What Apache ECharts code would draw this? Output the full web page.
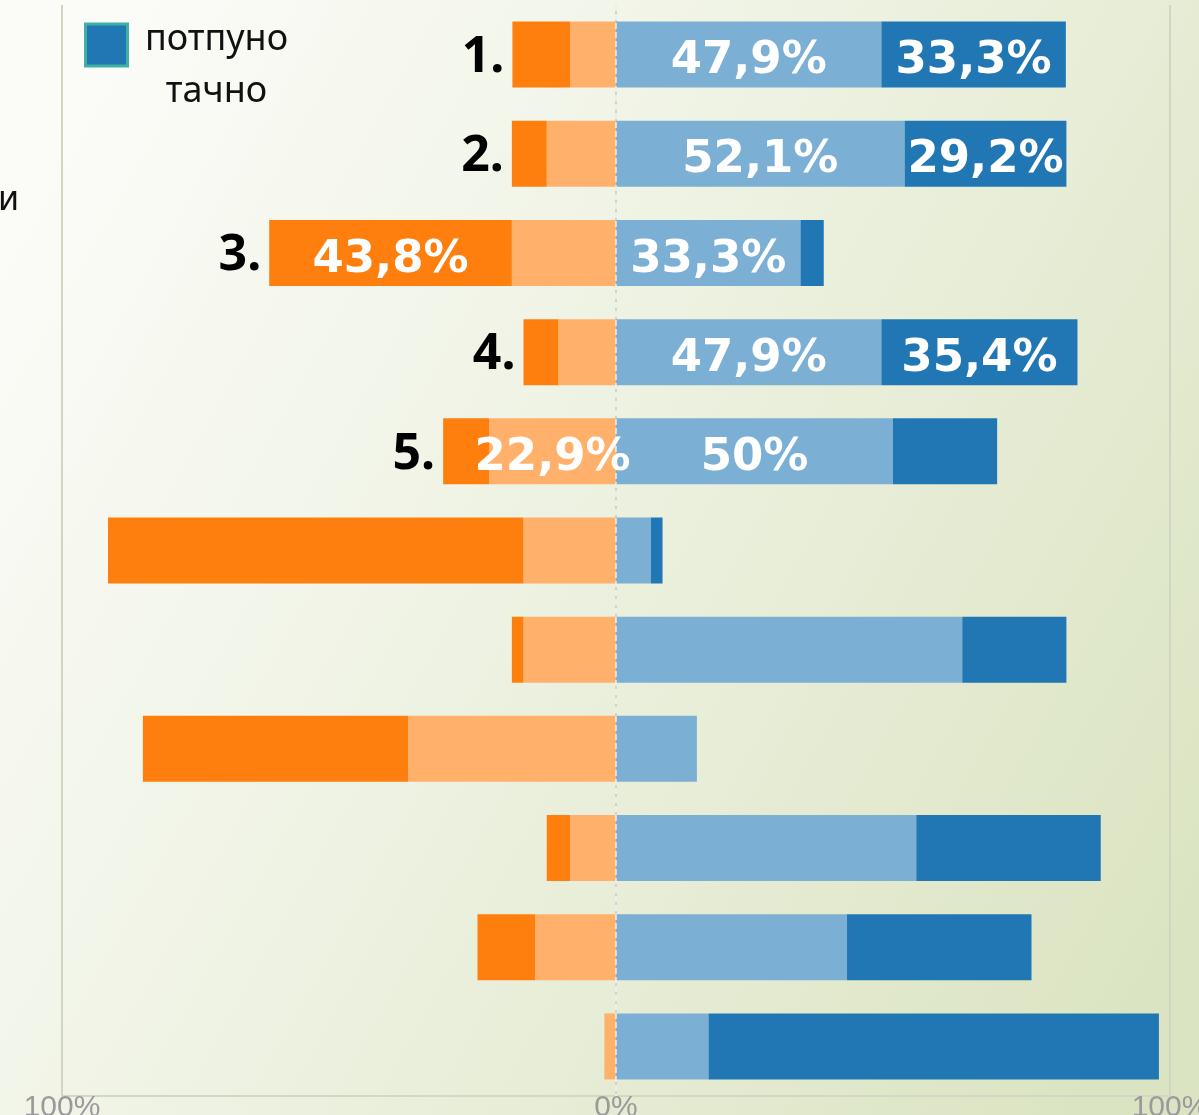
<!DOCTYPE html>
<html>
<head>
<meta charset="utf-8">
<script src="https://cdn.jsdelivr.net/npm/echarts@6/dist/echarts.min.js"></script>
<style>
html,body{margin:0;padding:0;}
#chart{width:1199px;height:1115px;}
</style>
</head>
<body>
<div id="chart"></div>
<script>
// ---- data ----
const categories = ['1','2','3','4','5','6','7','8','9','10','11'];
const rowLabels = ['1.','2.','3.','4.','5.','','','','','',''];
const seriesNames = ['нимало', 'делимично нетачно', 'углавном тачно', 'потпуно тачно'];
const darkOrange  = [10.4, 6.3, 43.8, 6.3, 8.3, 75.0, 2.1, 47.9, 4.2, 10.4, 0];
const lightOrange = [8.3, 12.5, 18.8, 10.4, 22.9, 16.7, 16.7, 37.5, 8.3, 14.6, 2.1];
const lightBlue   = [47.9, 52.1, 33.3, 47.9, 50.0, 6.3, 62.5, 14.6, 54.2, 41.7, 16.7];
const darkBlue    = [33.3, 29.2, 4.2, 35.4, 18.8, 2.1, 18.8, 0, 33.3, 33.3, 81.3];
// which segment values are printed on the bars
const showDarkOrange  = [0,0,1,0,0,0,0,0,0,0,0];
const showLightOrange = [0,0,0,0,1,0,0,0,0,0,0];
const showLightBlue   = [1,1,1,1,1,0,0,0,0,0,0];
const showDarkBlue    = [1,1,0,1,0,0,0,0,0,0,0];
const axisTicks = [-100, 0, 100];

const colors = {darkOrange:'#ff7f0e', lightOrange:'#ffb06b', lightBlue:'#7bafd4', darkBlue:'#2077b4'};

function fmt(v){
  v = Math.abs(v);
  const s = Number.isInteger(v) ? String(v) : v.toFixed(1).replace('.', ',');
  return s + '%';
}
const valueLabel = {
  show: true, position: 'inside', color: '#ffffff', offset: [0, 7],
  fontFamily: 'DejaVu Sans', fontWeight: 'bold', fontSize: 45,
  formatter: p => fmt(p.value)
};
function mk(vals, flags, sign){
  return vals.map((v,i) => ({
    value: sign * v,
    label: flags[i] ? Object.assign({}, valueLabel) : {show:false}
  }));
}
const markerVals = rowLabels.map((t,i) => t ? -(darkOrange[i] + lightOrange[i]) : null);

const common = {type:'bar', barWidth: 66, barGap: '-100%', silent: true};

const chart = echarts.init(document.getElementById('chart'));
chart.setOption({
  animation: false,
  backgroundColor: {
    type: 'linear', x: 0, y: 0.2, x2: 1, y2: 0.8,
    colorStops: [
      {offset: 0, color: '#fbfcf8'},
      {offset: 0.45, color: '#eef2e2'},
      {offset: 1, color: '#dbe4c2'}
    ]
  },
  grid: {left: 62, right: 29, top: 5, bottom: 19, containLabel: false, outerBoundsMode: 'none'},
  legend: {
    data: ['потпуно тачно'],
    left: 79, top: 17,
    itemWidth: 42, itemHeight: 42,
    icon: 'rect',
    itemStyle: {borderColor: '#3fb0a3', borderWidth: 3},
    formatter: () => '{a|потпуно}\n{a|тачно}',
    textStyle: {
      padding: [42, 0, 0, 0],
      rich: {a: {width: 168, align: 'center', fontSize: 36, lineHeight: 52, fontFamily: 'Noto Sans', color: '#111'}}
    }
  },
  xAxis: {
    type: 'value', min: -100, max: 100, interval: 100,
    axisLine: {show: true, lineStyle: {color: '#d2d8c4', width: 2}},
    axisTick: {show: false},
    splitLine: {show: true, lineStyle: {color: '#d0d6c2', width: 2}},
    axisLabel: {
      formatter: v => axisTicks.includes(v) ? Math.abs(v) + '%' : '',
      color: '#9a9a9a', fontSize: 30, fontFamily: 'Liberation Sans', margin: -3
    }
  },
  yAxis: {
    type: 'category', data: categories, inverse: true,
    axisLine: {show: false}, axisTick: {show: false}, axisLabel: {show: false}
  },
  graphic: [
    {type: 'text', left: -2, top: 183, style: {text: 'и', fontSize: 34, fontFamily: 'Noto Sans', fill: '#111'}}
  ],
  series: [
    Object.assign({}, common, {
      name: seriesNames[1], stack: 'a', itemStyle: {color: colors.lightOrange},
      data: mk(lightOrange, showLightOrange, -1)
    }),
    Object.assign({}, common, {
      name: seriesNames[0], stack: 'a', itemStyle: {color: colors.darkOrange},
      data: mk(darkOrange, showDarkOrange, -1)
    }),
    Object.assign({}, common, {
      name: seriesNames[2], stack: 'a', itemStyle: {color: colors.lightBlue},
      data: mk(lightBlue, showLightBlue, 1),
      markLine: {
        silent: true, symbol: 'none', label: {show: false},
        lineStyle: {color: '#ffffff', type: 'dashed', width: 1.5, opacity: 0.8},
        data: [{xAxis: 0}]
      }
    }),
    Object.assign({}, common, {
      name: seriesNames[3], stack: 'a', itemStyle: {color: colors.darkBlue},
      data: mk(darkBlue, showDarkBlue, 1)
    }),
    Object.assign({}, common, {
      name: 'rows', stack: 'm', itemStyle: {color: 'rgba(0,0,0,0)'},
      data: markerVals,
      label: {
        show: true, position: 'left', distance: 8, offset: [0, 3],
        formatter: p => rowLabels[p.dataIndex],
        color: '#000', fontSize: 50, fontWeight: 'bold', fontFamily: 'Noto Sans'
      }
    })
  ]
});
</script>
</body>
</html>
